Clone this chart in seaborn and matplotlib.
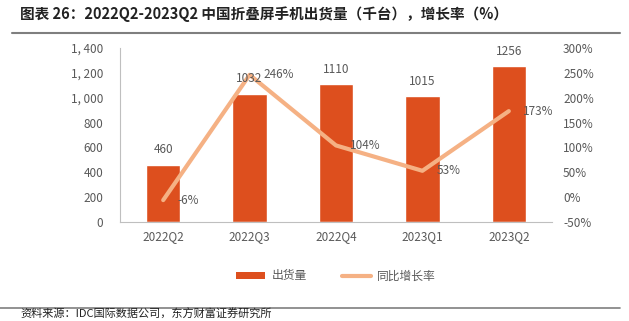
import matplotlib
matplotlib.use("Agg")
import matplotlib.pyplot as plt
import seaborn as sns
import pandas as pd
from matplotlib.lines import Line2D
from matplotlib.patches import Patch

categories = ["2022Q2", "2022Q3", "2022Q4", "2023Q1", "2023Q2"]
shipments = [460, 1032, 1110, 1015, 1256]
growth = [-6, 246, 104, 53, 173]
left_ticks = [0, 200, 400, 600, 800, 1000, 1200, 1400]
right_ticks = [-50, 0, 50, 100, 150, 200, 250, 300]

sns.set_theme(style="white")
plt.rcParams['font.family'] = ['Noto Sans CJK SC', 'DejaVu Sans']

BAR = "#DD4F1E"
LINE = "#F5B184"
GRAY = "#595959"

df = pd.DataFrame({"q": categories, "v": shipments, "g": growth})

fig = plt.figure(figsize=(6.29, 3.21), dpi=100)
ax = fig.add_axes([120/629, 1-222/321, (552-120)/629, (222-48)/321])
sns.barplot(data=df, x="q", y="v", color=BAR, width=0.4, ax=ax, saturation=1)
ax.set_ylim(0, 1400)
ax.set_yticks(left_ticks)
ax.set_yticklabels([f"{t:,}".replace(",", ", ") for t in left_ticks])
ax.set_xlim(-0.5, 4.5)
ax.set_xlabel("")
ax.set_ylabel("")
for s in ["top", "right"]:
    ax.spines[s].set_visible(False)
for s in ["left", "bottom"]:
    ax.spines[s].set_color("#BFBFBF")
    ax.spines[s].set_linewidth(0.8)
ax.tick_params(axis="both", length=0, labelsize=8.5, labelcolor=GRAY)
ax.tick_params(axis="y", pad=12)
ax.tick_params(axis="x", pad=6)

ax2 = ax.twinx()
sns.lineplot(x=list(range(5)), y=growth, color=LINE, linewidth=3, ax=ax2, sort=False)
ax2.set_ylim(-50, 300)
ax2.set_yticks(right_ticks)
ax2.set_yticklabels([f"{t}%" for t in right_ticks])
for s in ["top", "right", "left", "bottom"]:
    ax2.spines[s].set_visible(False)
ax2.tick_params(axis="y", length=0, labelsize=8.5, labelcolor=GRAY, pad=8)
ax2.set_xlim(-0.5, 4.5)
for i, g in enumerate(growth):
    ax2.annotate(f"{g}%", (i, g), xytext=(10, 0), textcoords="offset points",
                 ha="left", va="center", fontsize=8.5, color=GRAY)
for i, v in enumerate(shipments):
    ax2.annotate(str(v), (i, v), xycoords=ax.transData, xytext=(0, 6),
                 textcoords="offset points", ha="center", va="bottom",
                 fontsize=8.5, color=GRAY, zorder=5)

fig.text(20/629, 1-14/321, "图表 26：2022Q2-2023Q2 中国折叠屏手机出货量（千台），增长率（%）",
         fontsize=10.5, fontweight="bold", color="#222222", ha="left", va="center")
fig.add_artist(Line2D([12/629, 620/629], [1-33/321, 1-33/321], color="#7F7F7F", linewidth=1.5))
fig.add_artist(Line2D([0/629, 620/629], [1-308/321, 1-308/321], color="#7F7F7F", linewidth=1.2))
fig.text(20/629, 1-320/321, "资料来源：IDC国际数据公司，东方财富证券研究所",
         fontsize=8, color="#222222", ha="left", va="bottom")

handles = [Patch(facecolor=BAR, edgecolor="none"),
           Line2D([0], [0], color=LINE, linewidth=3)]
fig.legend(handles, ["出货量", "同比增长率"], loc="center", bbox_to_anchor=(336/629, 1-276/321),
           ncol=2, frameon=False, fontsize=8.5, labelcolor=GRAY, handlelength=2.5,
           handleheight=0.5, columnspacing=3, handletextpad=0.5)

fig.savefig("out.png", dpi=100)
